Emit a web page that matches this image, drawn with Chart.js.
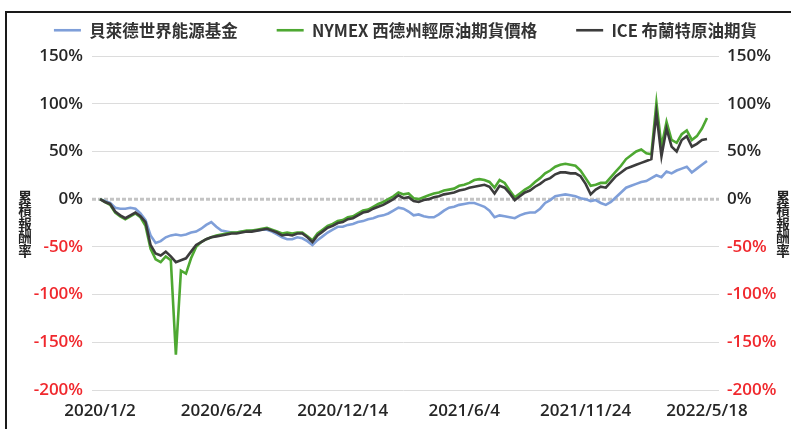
<!DOCTYPE html>
<html>
<head>
<meta charset="utf-8">
<script src="https://cdn.jsdelivr.net/npm/chart.js@4.4.0/dist/chart.umd.min.js"></script>
<style>
  html, body { margin: 0; padding: 0; background: #fff; }
  #wrap { position: relative; width: 791px; height: 429px; overflow: hidden; }
  #frame { position: absolute; left: 5px; top: 11px; width: 800px; height: 430px;
           border-left: 2px solid #1a1a1a; border-top: 2px solid #1a1a1a; }
  .ytitle { position: absolute; top: 190px; font: bold 13.5px 'Noto Sans CJK TC', sans-serif;
            line-height: 15px; color: #222;
            writing-mode: vertical-rl; text-orientation: upright; }
</style>
</head>
<body>
<div id="wrap">
  <canvas id="oilChart" width="791" height="429"></canvas>
  <div id="frame"></div>
  <div class="ytitle" style="left:17px">累積報酬率</div>
  <div class="ytitle" style="left:775px">累積報酬率</div>
</div>
<script>
// 每 5 個交易日取一點,2020/1/2 ~ 2022/5/18,累積報酬率 (%)
const tickLabels = ['2020/1/2', '2020/6/24', '2020/12/14', '2021/6/4', '2021/11/24', '2022/5/18'];
const seriesNames = ['貝萊德世界能源基金', 'NYMEX 西德州輕原油期貨價格', 'ICE 布蘭特原油期貨'];
const tickEvery = 24;

const fundValues = [
  0, -2, -4, -9, -10, -10, -9, -10, -15, -22,
  -38, -46, -44, -40, -38, -37, -38, -37, -35, -34,
  -31, -27, -24, -29, -33, -34, -35, -35, -34, -34,
  -33, -33, -32, -32, -34, -37, -40, -42, -42, -40,
  -41, -44, -48, -43, -39, -35, -32, -29, -29, -27,
  -26, -24, -23, -21, -20, -18, -17, -15, -12, -9,
  -10, -13, -17, -16, -18, -19, -19, -16, -12, -9,
  -8, -6, -5, -4, -4, -6, -8, -12, -19, -17,
  -18, -19, -20, -17, -15, -14, -14, -10, -4, -1,
  3, 4, 5, 4, 3, 1, 0, -2, -1, -4,
  -6, -3, 2, 7, 12, 14, 16, 18, 19, 22,
  25, 23, 29, 27, 30, 32, 34, 28, 32, 36,
  40
];
const wtiValues = [
  0, -3, -6, -14, -18, -21, -18, -15, -19, -28,
  -52, -63, -66, -60, -64, -163, -75, -78, -62, -50,
  -45, -42, -40, -38, -37, -36, -35, -35, -34, -33,
  -33, -32, -31, -30, -32, -34, -36, -35, -36, -35,
  -35, -39, -43, -36, -32, -28, -26, -23, -22, -19,
  -18, -15, -12, -11, -8, -5, -3, 0, 3, 7,
  5, 6, 1, 0, 2, 4, 6, 7, 9, 10,
  11, 14, 15, 17, 20, 21, 20, 18, 12, 20,
  17, 9, 2, 6, 10, 13, 18, 22, 27, 30,
  34, 36, 37, 36, 35, 30, 22, 14, 15, 17,
  17, 23, 29, 35, 42, 46, 50, 52, 48, 47,
  101, 55, 81, 62, 59, 68, 72, 62, 66, 74,
  85
];
const brentValues = [
  0, -3, -5, -13, -17, -20, -17, -14, -18, -24,
  -48, -57, -59, -55, -60, -66, -64, -62, -55, -48,
  -45, -42, -40, -39, -38, -37, -36, -36, -35, -34,
  -34, -33, -32, -31, -33, -35, -38, -37, -38, -36,
  -36, -40, -45, -38, -34, -30, -28, -25, -24, -21,
  -20, -17, -14, -13, -10, -8, -6, -3, 0, 4,
  1, 2, -2, -3, -1, 0, 2, 3, 5, 6,
  7, 9, 10, 12, 13, 14, 15, 13, 6, 14,
  12, 6, -1, 3, 7, 9, 13, 16, 20, 22,
  26, 28, 28, 27, 27, 24, 16, 5, 10, 13,
  12, 18, 24, 28, 32, 34, 36, 38, 40, 42,
  90, 45, 74, 55, 50, 62, 66, 55, 58, 62,
  63
];
const labels = fundValues.map((_, i) => i);

const red = '#f0282d';
const tickColor = ctx => ctx.tick.value < 0 ? red : '#262626';
const gridColor = ctx => ctx.tick.value === 0 ? 'rgba(0,0,0,0)' : '#dcdcdc';
const tickFont = { family: "'Open Sans', 'Noto Sans', sans-serif", size: 17, weight: '600' };

// 0% 線:灰色虛線
const zeroLine = {
  id: 'zeroLine',
  beforeDatasetsDraw(chart) {
    const { ctx, chartArea, scales } = chart;
    const y = scales.y.getPixelForValue(0);
    ctx.save();
    ctx.strokeStyle = '#c4c4c4';
    ctx.lineWidth = 3;
    ctx.setLineDash([4, 2]);
    ctx.beginPath();
    ctx.moveTo(chartArea.left - 8, y);
    ctx.lineTo(chartArea.right + 12, y);
    ctx.stroke();
    ctx.restore();
  }
};

// 圖例:固定高度,再往上/右挪一點
const legendPlace = {
  id: 'legendPlace',
  beforeInit(chart) {
    const fit = chart.legend.fit;
    chart.legend.fit = function () { fit.call(this); this.height = 56; };
  },
  afterLayout(chart) {
    const lg = chart.legend;
    lg.top -= 17;
    lg.left += 10;
    lg.right += 10;
  }
};

const datasets = [
  { label: seriesNames[0], data: fundValues, borderColor: '#7f9fd9', order: 3 },
  { label: seriesNames[1], data: wtiValues, borderColor: '#4ea832', order: 2 },
  { label: seriesNames[2], data: brentValues, borderColor: '#3c3c3c', order: 1 }
].map(d => ({ ...d, backgroundColor: d.borderColor, borderWidth: 2.6, pointRadius: 0, tension: 0, yAxisID: 'y' }));

const ctx = document.getElementById('oilChart').getContext('2d');
const chart = new Chart(ctx, {
  type: 'line',
  data: { labels, datasets },
  options: {
    responsive: false,
    animation: false,
    layout: { padding: { top: 0, bottom: 8, left: 0, right: 0 } },
    plugins: {
      tooltip: { enabled: false },
      legend: {
        position: 'top',
        labels: {
          usePointStyle: true,
          pointStyle: 'line',
          pointStyleWidth: 27,
          padding: 39,
          color: '#333',
          font: { family: "'Noto Sans CJK TC', sans-serif", size: 16.5, weight: 'bold' },
          sort: (a, b) => a.datasetIndex - b.datasetIndex
        }
      }
    },
    scales: {
      x: {
        grid: { display: false, drawTicks: false },
        border: { display: false },
        ticks: {
          autoSkip: false,
          maxRotation: 0,
          padding: 11,
          color: '#262626',
          font: tickFont,
          callback: (v, i) => i % tickEvery === 0 ? tickLabels[i / tickEvery] : ''
        },
        afterFit: s => { s.height = 31; }
      },
      y: {
        position: 'left',
        min: -200,
        max: 150,
        ticks: { stepSize: 50, padding: 9, color: tickColor, font: tickFont, callback: v => v + '%' },
        grid: { color: gridColor, lineWidth: 1, tickLength: 8 },
        border: { display: false },
        afterFit: s => { s.width = 100; }
      },
      y2: {
        position: 'right',
        min: -200,
        max: 150,
        ticks: { stepSize: 50, padding: 8, color: tickColor, font: tickFont, callback: v => v + '%' },
        grid: { drawOnChartArea: false, color: gridColor, lineWidth: 1, tickLength: 12 },
        border: { display: false },
        afterFit: s => { s.width = 84; }
      }
    }
  },
  plugins: [zeroLine, legendPlace]
});
</script>
</body>
</html>
